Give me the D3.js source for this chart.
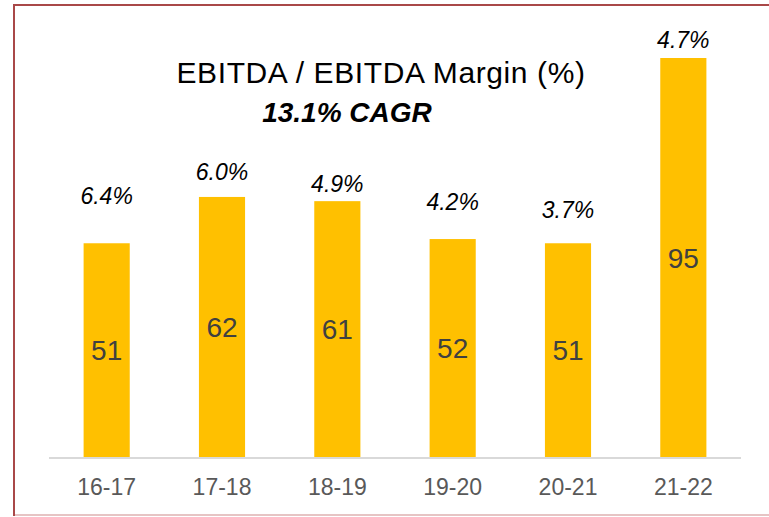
<!DOCTYPE html>
<html>
<head>
<meta charset="utf-8">
<script src="https://cdn.jsdelivr.net/npm/d3@7"></script>
<style>
  body { margin: 0; background: #fff; }
  svg { display: block; font-family: "Liberation Sans", Arial, sans-serif; }
</style>
</head>
<body>
<script>
var years = ['16-17', '17-18', '18-19', '19-20', '20-21', '21-22'];
var ebitda = [51, 62, 61, 52, 51, 95];
var margins = ['6.4%', '6.0%', '4.9%', '4.2%', '3.7%', '4.7%'];
// height (in EBITDA units) where each margin text box sits
var marginLevel = [62.2, 67.9, 65.1, 60.8, 58.9, 99.3];

var width = 769;
var height = 517;
var plot = {left: 49, right: 741, top: 58, bottom: 458};

var svg = d3.select('body')
  .append('svg')
  .attr('width', width)
  .attr('height', height);

// frame
svg.append('rect')
  .attr('x', 14)
  .attr('y', 5)
  .attr('width', width + 20)
  .attr('height', 510)
  .style('fill', 'none')
  .style('stroke', '#e6c4c4')
  .style('stroke-width', 2);
svg.append('path')
  .attr('d', 'M14,516V5H' + (width + 5))
  .style('fill', 'none')
  .style('stroke', '#a94848')
  .style('stroke-width', 2);

var x = d3.scaleBand()
  .domain(years)
  .range([plot.left, plot.right])
  .paddingInner(0.6)
  .paddingOuter(0.3);

var y = d3.scaleLinear()
  .domain([0, 95])
  .range([plot.bottom, plot.top]);

svg.selectAll('rect.bar')
  .data(years)
  .enter()
  .append('rect')
  .attr('class', 'bar')
  .attr('x', function(d) { return x(d); })
  .attr('y', function(d, i) { return y(ebitda[i]); })
  .attr('width', x.bandwidth())
  .attr('height', function(d, i) { return y(0) - y(ebitda[i]); })
  .style('fill', '#ffc000');

var axis = svg.append('g')
  .attr('transform', 'translate(0,' + plot.bottom + ')')
  .call(d3.axisBottom(x).tickSize(0).tickPadding(21));
axis.select('.domain')
  .attr('d', 'M' + plot.left + ',0H' + plot.right)
  .style('stroke', '#d9d9d9')
  .style('stroke-width', 2);
axis.selectAll('text')
  .style('font-size', '23px')
  .style('fill', '#595959')
  .style('font-family', '"Liberation Sans", Arial, sans-serif');

svg.selectAll('text.value')
  .data(years)
  .enter()
  .append('text')
  .attr('class', 'value')
  .attr('x', function(d) { return x(d) + x.bandwidth() / 2; })
  .attr('y', function(d, i) { return (y(ebitda[i]) + y(0)) / 2; })
  .attr('dy', '0.35em')
  .attr('text-anchor', 'middle')
  .style('font-size', '28px')
  .style('fill', '#404040')
  .text(function(d, i) { return ebitda[i]; });

svg.selectAll('text.margin')
  .data(years)
  .enter()
  .append('text')
  .attr('class', 'margin')
  .attr('x', function(d) { return x(d) + x.bandwidth() / 2; })
  .attr('y', function(d, i) { return y(marginLevel[i]); })
  .attr('dy', '0.35em')
  .attr('text-anchor', 'middle')
  .style('font-size', '23px')
  .style('font-style', 'italic')
  .style('fill', '#000')
  .text(function(d, i) { return margins[i]; });

svg.append('text')
  .attr('x', 381)
  .attr('y', 83)
  .attr('text-anchor', 'middle')
  .style('font-size', '30px')
  .style('letter-spacing', '0.6px')
  .style('fill', '#000')
  .text('EBITDA / EBITDA Margin (%)');

svg.append('text')
  .attr('x', 347)
  .attr('y', 122)
  .attr('text-anchor', 'middle')
  .style('font-size', '28px')
  .style('font-weight', 'bold')
  .style('font-style', 'italic')
  .style('fill', '#000')
  .text('13.1% CAGR');
</script>
</body>
</html>
